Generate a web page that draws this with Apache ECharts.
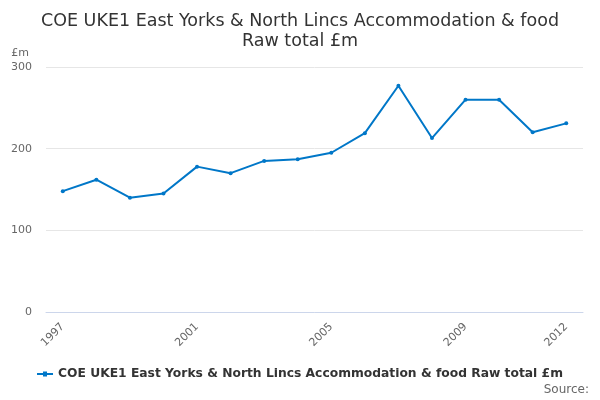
<!DOCTYPE html>
<html><head><meta charset="utf-8">
<script src="https://cdn.jsdelivr.net/npm/echarts@6/dist/echarts.min.js"></script>
<style>html,body{margin:0;padding:0;background:#fff}#c{width:600px;height:400px}</style>
</head><body><div id="c"></div>
<script>
var years = ['1997','1998','1999','2000','2001','2002','2003','2004','2005','2006','2007','2008','2009','2010','2011','2012'];
var values = [148,162,140,145,178,170,185,187,195,219,277,213,260,260,220,231];
var seriesName = 'COE UKE1 East Yorks & North Lincs Accommodation & food Raw total £m';
var shownLabels = [0,4,8,12,15];
var chart = echarts.init(document.getElementById('c'));
chart.setOption({
  animation:false,
  title:{text:'COE UKE1 East Yorks & North Lincs Accommodation & food\nRaw total £m',left:'center',top:6,
    textStyle:{fontFamily:'DejaVu Sans',fontSize:17.5,fontWeight:'normal',color:'#333',lineHeight:20}},
  graphic:[{type:'text',right:11,top:384,style:{text:'Source:',fontFamily:'DejaVu Sans',fontSize:12,fill:'#666'}}],
  legend:{bottom:15,left:'center',itemWidth:16,itemHeight:6,icon:'path://M0,2 L16,2 L16,4 L0,4 Z M6,0.5 L10,0.5 L10,5.5 L6,5.5 Z',
    textStyle:{fontFamily:'DejaVu Sans',fontSize:12.3,fontWeight:'bold',color:'#333'}},
  grid:{left:46,right:17,top:67,bottom:88},
  xAxis:{type:'category',data:years,boundaryGap:true,
    axisLine:{lineStyle:{color:'#ccd6eb'}},
    axisTick:{alignWithLabel:true,interval:0,length:10,lineStyle:{color:'#ccd6eb'}},
    axisLabel:{rotate:45,color:'#666',fontFamily:'DejaVu Sans',fontSize:11,margin:13,
      interval:function(i){return shownLabels.indexOf(i)>=0;}}},
  yAxis:{type:'value',min:0,max:300,interval:100,name:'£m',nameLocation:'end',nameGap:8,
    nameTextStyle:{color:'#666',fontFamily:'DejaVu Sans',fontSize:11,align:'right',padding:[0,17,0,0]},
    axisLabel:{color:'#666',fontFamily:'DejaVu Sans',fontSize:11,margin:14},
    axisLine:{show:false},axisTick:{show:false},
    splitLine:{lineStyle:{color:'#e6e6e6'}}},
  series:[{name:seriesName,type:'line',data:values,color:'#0077c8',
    symbol:'circle',symbolSize:4,lineStyle:{width:2}}]
});
</script></body></html>
